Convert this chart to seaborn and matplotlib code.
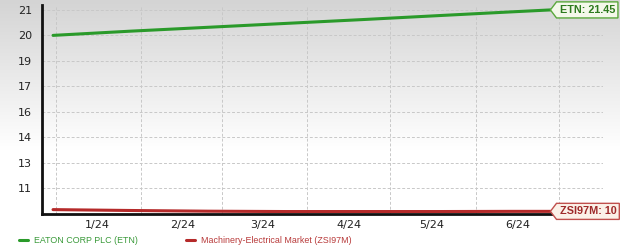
import numpy as np
import pandas as pd
import matplotlib
matplotlib.use("Agg")
import matplotlib.pyplot as plt
import matplotlib.dates as mdates
from matplotlib.path import Path
from matplotlib.colors import LinearSegmentedColormap
import seaborn as sns

# ---------------- data ----------------
dates = ["2023-12-31", "2024-01-28", "2024-02-25", "2024-03-24",
         "2024-04-21", "2024-05-19", "2024-06-14", "2024-06-28"]
etn_values = [20.00, 20.24, 20.46, 20.68, 20.90, 21.13, 21.34, 21.45]
zsi_values = [10.08, 10.03, 9.99, 9.97, 9.97, 9.97, 9.98, 9.98]
etn_name = "EATON CORP PLC (ETN)"
zsi_name = "Machinery-Electrical Market (ZSI97M)"
etn_tag = "ETN: 21.45"
zsi_tag = "ZSI97M: 10"
ytick_values = [11.3, 12.75, 14.2, 15.65, 17.1, 18.55, 20.0, 21.45]
ytick_labels = ["11", "13", "14", "16", "17", "19", "20", "21"]

GREEN = "#2a9a2a"
RED = "#b52a2a"

df = pd.DataFrame({
    "date": pd.to_datetime(dates * 2),
    "value": etn_values + zsi_values,
    "series": [etn_name] * len(dates) + [zsi_name] * len(dates),
})

sns.set_style("white")
plt.rcParams["font.family"] = ["DejaVu Sans"]

fig = plt.figure(figsize=(6.2, 2.5), dpi=100)

# gradient background
bg = fig.add_axes([0, 0, 1, 1], zorder=-10)
cmap = LinearSegmentedColormap.from_list("g", [(0, "#d4d4d4"), (0.6, "#ffffff"), (1, "#ffffff")])
grad = np.linspace(0, 1, 256).reshape(-1, 1)
bg.imshow(grad, aspect="auto", cmap=cmap, extent=[0, 1, 0, 1], origin="upper")
bg.axis("off")

ax = fig.add_axes([0.0677, 0.144, 0.9726 - 0.0677, 0.98 - 0.144])
ax.set_facecolor("none")

sns.lineplot(data=df, x="date", y="value", hue="series",
             palette={etn_name: GREEN, zsi_name: RED},
             linewidth=2.2, ax=ax, legend=True)

ax.set_xlim(pd.Timestamp("2023-12-27"), pd.Timestamp("2024-07-17"))
ax.set_ylim(9.83, 21.73)
ax.set_yticks(ytick_values)
ax.set_yticklabels(ytick_labels)

ax.xaxis.set_major_locator(mdates.MonthLocator())
ax.xaxis.set_major_formatter(plt.NullFormatter())
ax.xaxis.set_minor_locator(mdates.MonthLocator(bymonth=range(1, 7), bymonthday=16))
ax.xaxis.set_minor_formatter(mdates.DateFormatter("%-m/%y"))
ax.tick_params(axis="x", which="both", length=0, labelsize=8, pad=4, colors="#222222")
ax.tick_params(axis="y", length=5, width=1.2, labelsize=8, pad=2, colors="#222222", direction="out")
ax.set_xlabel("")
ax.set_ylabel("")

ax.grid(True, axis="both", which="major", color="#c8c8c8", linestyle=(0, (3, 2)), linewidth=0.7)
for s in ["top", "right"]:
    ax.spines[s].set_visible(False)
for s in ["left", "bottom"]:
    ax.spines[s].set_color("#111111")
    ax.spines[s].set_linewidth(2)

# tag shaped annotation boxes
def tag_box(x0, y0, width, height, mutation_size):
    pad = mutation_size * 0.28
    h = height + 2 * pad
    tip = h * 0.38
    left = x0 - pad
    verts = [(left - tip, y0 + height / 2), (left, y0 - pad), (x0 + width + pad, y0 - pad),
             (x0 + width + pad, y0 + height + pad), (left, y0 + height + pad),
             (left - tip, y0 + height / 2)]
    codes = [Path.MOVETO] + [Path.LINETO] * 4 + [Path.CLOSEPOLY]
    return Path(verts, codes)

last = pd.Timestamp(dates[-1])
tag_font = ["Liberation Sans", "DejaVu Sans"]
ax.annotate(etn_tag, xy=(last, etn_values[-1]), xytext=(6.5, 0), textcoords="offset points",
            ha="left", va="center", fontsize=7.8, fontweight="bold", color="#2e7a1e",
            family=tag_font, annotation_clip=False, zorder=10,
            bbox=dict(boxstyle=tag_box, fc="#f4f8ea", ec="#5aa83c", lw=1))
ax.annotate(zsi_tag, xy=(last, zsi_values[-1]), xytext=(6.5, 0), textcoords="offset points",
            ha="left", va="center", fontsize=7.8, fontweight="bold", color="#9e2a2a",
            family=tag_font, annotation_clip=False, zorder=10,
            bbox=dict(boxstyle=tag_box, fc="#fbf1e8", ec="#c0504d", lw=1))

# legend at bottom
handles, labels = ax.get_legend_handles_labels()
ax.get_legend().remove()
leg = fig.legend(handles, labels, loc="lower left", bbox_to_anchor=(0.018, -0.012), ncol=2,
                 frameon=False, prop={"family": tag_font, "size": 6.4},
                 handlelength=1.0, handletextpad=0.7, columnspacing=5.4)
for t, c in zip(leg.get_texts(), ["#3a9a3a", "#b83a3a"]):
    t.set_color(c)

fig.savefig("out.png", dpi=100)
